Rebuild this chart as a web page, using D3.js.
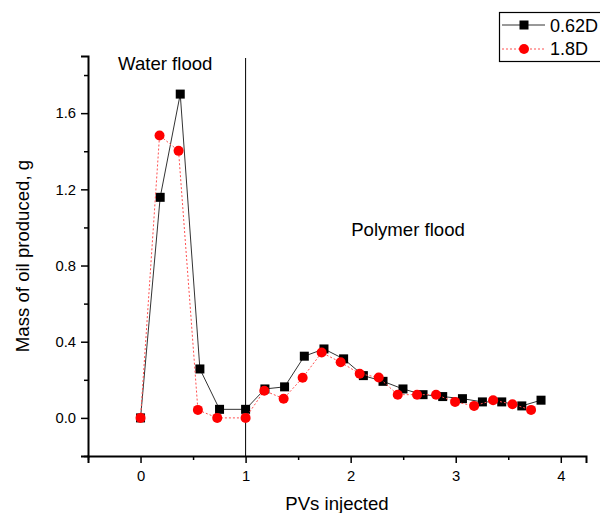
<!DOCTYPE html>
<html><head><meta charset="utf-8">
<script src="https://cdn.jsdelivr.net/npm/d3@7"></script>
<style>
html,body{margin:0;padding:0;background:#fff;}
svg text{font-family:"Liberation Sans",Arial,sans-serif;fill:#000;}
</style>
</head><body>
<svg id="chart" width="600" height="513"></svg>
<script>
// ---- data ----
const seriesNames = ["0.62D", "1.8D"];
const pvBlack = [0, 0.187, 0.378, 0.565, 0.752, 1.0, 1.184, 1.371, 1.559, 1.746, 1.933, 2.121, 2.308, 2.498, 2.689, 2.876, 3.064, 3.254, 3.438, 3.629, 3.812];
const massBlack = [0, 1.158, 1.70, 0.257, 0.045, 0.045, 0.152, 0.163, 0.324, 0.362, 0.310, 0.222, 0.192, 0.152, 0.122, 0.112, 0.101, 0.084, 0.084, 0.063, 0.093];
const pvRed = [0, 0.181, 0.362, 0.546, 0.730, 1.0, 1.178, 1.362, 1.543, 1.724, 1.905, 2.086, 2.267, 2.448, 2.632, 2.813, 2.994, 3.175, 3.356, 3.54, 3.717];
const massRed = [0, 1.483, 1.402, 0.042, 0.0, 0.0, 0.143, 0.101, 0.211, 0.343, 0.292, 0.232, 0.212, 0.122, 0.122, 0.122, 0.084, 0.063, 0.093, 0.072, 0.042];
const xTicks = [0, 1, 2, 3, 4];
const xMinorTicks = [-0.5, 0.5, 1.5, 2.5, 3.5];
const yTicks = [0, 0.4, 0.8, 1.2, 1.6];
const yMinorTicks = [-0.2, 0.2, 0.6, 1.0, 1.4, 1.8];
const dividerPV = 1;
const regionLabels = ["Water flood", "Polymer flood"];
const regionPos = [[-0.214, 1.825], [2.005, 0.955]];

// ---- layout ----
const svg = d3.select("#chart");
const x = d3.scaleLinear().domain([-0.5, 4.24]).range([88, 586]);
const y = d3.scaleLinear().domain([-0.2, 1.9]).range([456, 56]);

// divider line
svg.append("line")
  .attr("x1", x(dividerPV)).attr("x2", x(dividerPV))
  .attr("y1", 58).attr("y2", y(-0.2))
  .attr("stroke", "#000").attr("stroke-width", 1);

// region labels
regionLabels.forEach((t, i) => {
  svg.append("text").attr("x", x(regionPos[i][0])).attr("y", y(regionPos[i][1]))
    .attr("text-anchor", "start").attr("font-size", "18.6px").text(t);
});

// axes
const xAxis = svg.append("g").attr("transform", `translate(0,${y(-0.2)})`)
  .call(d3.axisBottom(x).tickValues(xTicks).tickFormat(d3.format("d")).tickSize(7).tickPadding(7));
const xMinor = svg.append("g").attr("transform", `translate(0,${y(-0.2)})`)
  .call(d3.axisBottom(x).tickValues(xMinorTicks).tickFormat("").tickSize(4));
const yAxis = svg.append("g").attr("transform", `translate(${x(-0.5)},0)`)
  .call(d3.axisLeft(y).tickValues(yTicks).tickFormat(d3.format(".1f")).tickSize(7).tickPadding(5));
const yMinor = svg.append("g").attr("transform", `translate(${x(-0.5)},0)`)
  .call(d3.axisLeft(y).tickValues(yMinorTicks).tickFormat("").tickSize(4));
[xAxis, xMinor, yAxis, yMinor].forEach(g => {
  g.select(".domain").attr("stroke", "#000").attr("stroke-width", 2);
  g.selectAll(".tick line").attr("stroke", "#000").attr("stroke-width", 1.5);
  g.selectAll("text").attr("font-size", "14.8px").attr("font-family", "Liberation Sans, Arial, sans-serif").attr("fill", "#000");
});
xMinor.select(".domain").remove();
yMinor.select(".domain").remove();

// axis titles
svg.append("text").attr("x", (x.range()[0] + x.range()[1]) / 2).attr("y", 510)
  .attr("text-anchor", "middle").attr("font-size", "18.6px").text("PVs injected");
svg.append("text").attr("transform", `translate(29,${(y.range()[0] + y.range()[1]) / 2}) rotate(-90)`)
  .attr("text-anchor", "middle").attr("font-size", "18.6px").text("Mass of oil produced, g");

// series
const blackData = pvBlack.map((v, i) => [v, massBlack[i]]);
const redData = pvRed.map((v, i) => [v, massRed[i]]);
const line = d3.line().x(d => x(d[0])).y(d => y(d[1]));

svg.append("path").datum(blackData).attr("d", line)
  .attr("fill", "none").attr("stroke", "#333").attr("stroke-width", 1);
svg.append("g").selectAll("rect").data(blackData).join("rect")
  .attr("x", d => x(d[0]) - 4.5).attr("y", d => y(d[1]) - 4.5)
  .attr("width", 9).attr("height", 9).attr("fill", "#000");

svg.append("path").datum(redData).attr("d", line)
  .attr("fill", "none").attr("stroke", "#ff5050").attr("stroke-width", 1).attr("stroke-dasharray", "2,2");
svg.append("g").selectAll("circle").data(redData).join("circle")
  .attr("cx", d => x(d[0])).attr("cy", d => y(d[1])).attr("r", 5).attr("fill", "#ff0000");

// legend
const lg = svg.append("g");
lg.append("rect").attr("x", 499.5).attr("y", 12.5).attr("width", 110).attr("height", 49)
  .attr("fill", "#fff").attr("stroke", "#000").attr("stroke-width", 1.2);
const rows = [25, 49];
lg.append("line").attr("x1", 502).attr("x2", 545).attr("y1", rows[0]).attr("y2", rows[0])
  .attr("stroke", "#333").attr("stroke-width", 1);
lg.append("rect").attr("x", 524 - 4.5).attr("y", rows[0] - 4.5).attr("width", 9).attr("height", 9).attr("fill", "#000");
lg.append("line").attr("x1", 502).attr("x2", 545).attr("y1", rows[1]).attr("y2", rows[1])
  .attr("stroke", "#ff5050").attr("stroke-width", 1).attr("stroke-dasharray", "2,2");
lg.append("circle").attr("cx", 524).attr("cy", rows[1]).attr("r", 5).attr("fill", "#ff0000");
lg.append("text").attr("x", 550).attr("y", 31.7).attr("font-size", "18px").text(seriesNames[0]);
lg.append("text").attr("x", 550).attr("y", 55).attr("font-size", "18px").text(seriesNames[1]);
</script>
</body></html>
